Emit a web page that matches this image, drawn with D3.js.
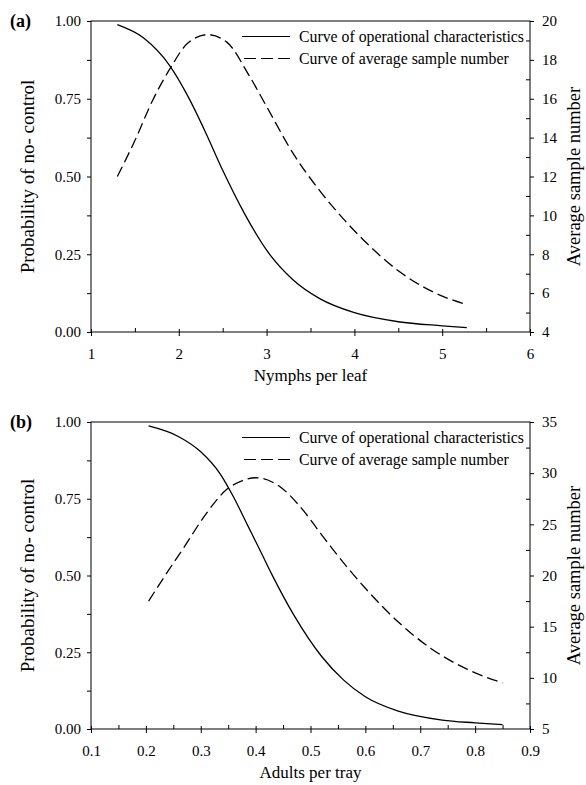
<!DOCTYPE html>
<html>
<head>
<meta charset="utf-8">
<script src="https://cdn.jsdelivr.net/npm/d3@7"></script>
<style>
	body { margin: 0; background: #fff; }
	svg { display: block; font-family: "Liberation Serif", "Times New Roman", serif; }
</style>
</head>
<body>
<div id="chart"></div>
<script>
/* global d3 */

// (a) nymphs per leaf
var nymphOcX	= [1.3, 1.6, 1.9, 2.1, 2.3, 2.5, 2.75, 3.0, 3.3, 3.6, 4.0, 4.5, 5.0, 5.28];
var nymphOc		= [0.988, 0.945, 0.855, 0.76, 0.645, 0.52, 0.38, 0.263, 0.168, 0.108, 0.062, 0.033, 0.02, 0.014];
var nymphAsnX	= [1.3, 1.5, 1.7, 1.9, 2.1, 2.33, 2.55, 2.8, 3.0, 3.3, 3.6, 3.8, 4.1, 4.5, 4.9, 5.28];
var nymphAsn	= [12.0, 13.85, 15.9, 17.55, 18.85, 19.3, 18.9, 17.2, 15.6, 13.2, 11.3, 10.2, 8.75, 7.15, 6.05, 5.4];

// (b) adults per tray
var adultOcX	= [0.205, 0.26, 0.30, 0.335, 0.36, 0.385, 0.41, 0.43, 0.47, 0.52, 0.56, 0.60, 0.66, 0.74, 0.80, 0.85];
var adultOc		= [0.987, 0.952, 0.903, 0.832, 0.755, 0.665, 0.575, 0.502, 0.37, 0.237, 0.16, 0.105, 0.058, 0.029, 0.02, 0.014];
var adultAsnX	= [0.205, 0.24, 0.27, 0.31, 0.345, 0.375, 0.40, 0.445, 0.48, 0.52, 0.54, 0.60, 0.66, 0.72, 0.785, 0.85];
var adultAsn	= [17.5, 20.4, 22.8, 26.05, 28.3, 29.25, 29.55, 28.65, 26.8, 24.0, 22.6, 18.75, 15.45, 12.85, 10.85, 9.5];

// ticks and labels
var probTicks	= [0, 0.25, 0.5, 0.75, 1];
var nymphTicks	= [1, 2, 3, 4, 5, 6];
var adultTicks	= [0.1, 0.2, 0.3, 0.4, 0.5, 0.6, 0.7, 0.8, 0.9];
var asnTicksA	= [4, 6, 8, 10, 12, 14, 16, 18, 20];
var asnTicksB	= [5, 10, 15, 20, 25, 30, 35];
var legendLabels = ['Curve of operational characteristics', 'Curve of average sample number'];

var W = 586, H = 785;
var left = 91, right = 530;

var svg = d3.select('#chart').append('svg')
	.attr('width', W)
	.attr('height', H);

function minorsOf(ticks) {
	var step = ticks[1] - ticks[0], res = [];
	for (var i = 0; i < ticks.length - 1; i++) {
		res.push(+(ticks[i] + step / 2).toFixed(4));
	}
	return res;
}

function drawPanel(cfg) {
	var x	= d3.scaleLinear().domain([cfg.xTicks[0], cfg.xTicks[cfg.xTicks.length - 1]]).range([left, right]);
	var yP	= d3.scaleLinear().domain([0, 1]).range([cfg.bottom, cfg.top]);
	var yA	= d3.scaleLinear().domain([cfg.asnTicks[0], cfg.asnTicks[cfg.asnTicks.length - 1]]).range([cfg.bottom, cfg.top]);
	var g	= svg.append('g');

	// left axis
	g.append('g').attr('transform', 'translate(' + left + ',0)')
		.call(d3.axisLeft(yP).tickValues(minorsOf(probTicks)).tickSize(4).tickFormat(''));
	g.append('g').attr('transform', 'translate(' + left + ',0)')
		.call(d3.axisLeft(yP).tickValues(probTicks).tickSize(4).tickPadding(6).tickFormat(d3.format('.2f')));

	// right axis
	g.append('g').attr('transform', 'translate(' + right + ',0)')
		.call(d3.axisRight(yA).tickValues(minorsOf(cfg.asnTicks)).tickSize(-4).tickFormat(''));
	g.append('g').attr('transform', 'translate(' + right + ',0)')
		.call(d3.axisRight(yA).tickValues(cfg.asnTicks).tickSize(4).tickPadding(8).tickFormat(d3.format('d')));

	// bottom axis
	g.append('g').attr('transform', 'translate(0,' + cfg.bottom + ')')
		.call(d3.axisBottom(x).tickValues(minorsOf(cfg.xTicks)).tickSize(-4).tickFormat(''));
	var bx = g.append('g').attr('transform', 'translate(0,' + cfg.bottom + ')')
		.call(d3.axisBottom(x).tickValues(cfg.xTicks).tickSize(4).tickPadding(12).tickFormat(cfg.xFormat));
	bx.selectAll('.tick line').attr('y1', -3);

	g.selectAll('.domain').remove();
	g.selectAll('.tick text').style('font-size', '15px').attr('fill', '#000')
		.style('font-family', '"Liberation Serif", serif');
	g.selectAll('.tick line').attr('stroke', '#000');

	// frame
	g.append('rect')
		.attr('x', left).attr('y', cfg.top)
		.attr('width', right - left).attr('height', cfg.bottom - cfg.top)
		.attr('fill', 'none').attr('stroke', '#000').attr('stroke-width', 1);

	// curves
	var ocLine = d3.line().curve(d3.curveMonotoneX)
		.x(function (d) { return x(d[0]); })
		.y(function (d) { return yP(d[1]); });
	var asnLine = d3.line().curve(d3.curveMonotoneX)
		.x(function (d) { return x(d[0]); })
		.y(function (d) { return yA(d[1]); });

	g.append('path')
		.attr('d', ocLine(d3.zip(cfg.ocX, cfg.oc)))
		.attr('fill', 'none').attr('stroke', '#000').attr('stroke-width', 1.3);
	g.append('path')
		.attr('d', asnLine(d3.zip(cfg.asnX, cfg.asn)))
		.attr('fill', 'none').attr('stroke', '#000').attr('stroke-width', 1.3)
		.attr('stroke-dasharray', '11,5');

	// legend
	var lg = g.append('g');
	lg.append('line')
		.attr('x1', 242).attr('x2', 290).attr('y1', cfg.top + 15.5).attr('y2', cfg.top + 15.5)
		.attr('stroke', '#000').attr('stroke-width', 1);
	lg.append('line')
		.attr('x1', 244).attr('x2', 290).attr('y1', cfg.top + 37.5).attr('y2', cfg.top + 37.5)
		.attr('stroke', '#000').attr('stroke-width', 1).attr('stroke-dasharray', '12,5');
	lg.selectAll('text').data(legendLabels).enter().append('text')
		.attr('x', 299)
		.attr('y', function (d, i) { return cfg.top + 21 + i * 22; })
		.style('font-size', '15.8px')
		.text(function (d) { return d; });

	// titles
	g.append('text')
		.attr('x', 10).attr('y', cfg.top + 6)
		.style('font-size', '18px').style('font-weight', 'bold')
		.text(cfg.label);
	g.append('text')
		.attr('x', (left + right) / 2).attr('y', cfg.bottom + 49)
		.attr('text-anchor', 'middle')
		.style('font-size', '17px')
		.text(cfg.xTitle);
	var midY = (cfg.top + cfg.bottom) / 2;
	g.append('text')
		.attr('transform', 'translate(34,' + midY + ') rotate(-90)')
		.attr('text-anchor', 'middle')
		.style('font-size', '19px')
		.text('Probability of no- control');
	g.append('text')
		.attr('transform', 'translate(580,' + midY + ') rotate(-90)')
		.attr('text-anchor', 'middle')
		.style('font-size', '18.5px')
		.text('Average sample number');
}

drawPanel({
	label: '(a)', top: 21, bottom: 332,
	xTicks: nymphTicks, xFormat: d3.format('d'), asnTicks: asnTicksA,
	ocX: nymphOcX, oc: nymphOc, asnX: nymphAsnX, asn: nymphAsn,
	xTitle: 'Nymphs per leaf'
});

drawPanel({
	label: '(b)', top: 422, bottom: 729,
	xTicks: adultTicks, xFormat: d3.format('.1f'), asnTicks: asnTicksB,
	ocX: adultOcX, oc: adultOc, asnX: adultAsnX, asn: adultAsn,
	xTitle: 'Adults per tray'
});
</script>
</body>
</html>
